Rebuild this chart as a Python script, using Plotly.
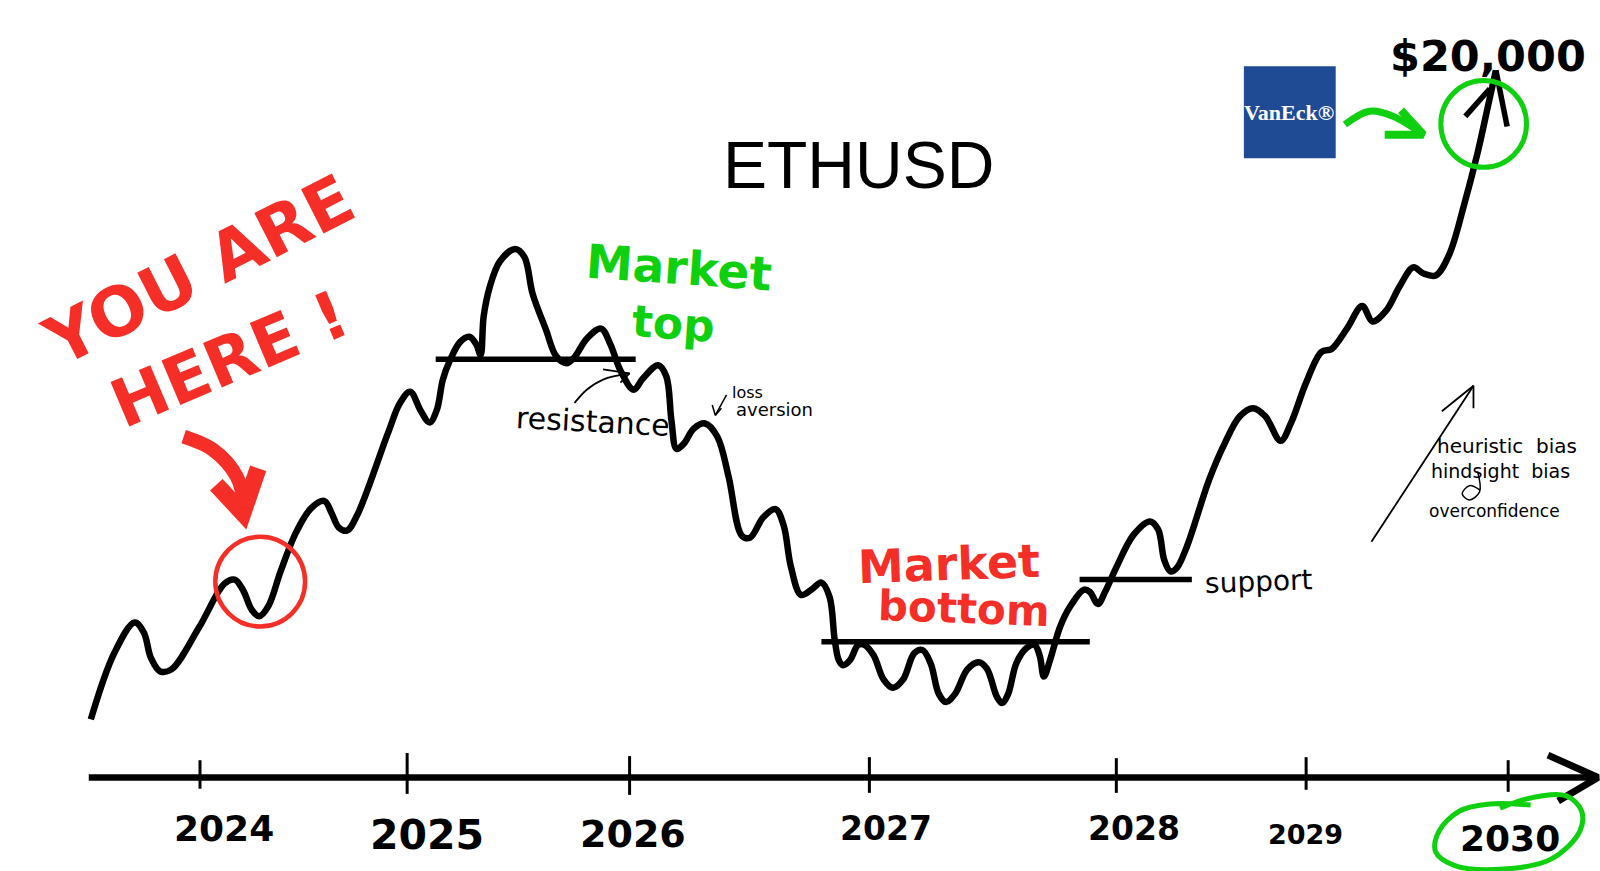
import plotly.graph_objects as go

# Chart units follow the drawing's own scale (1568 x 853.6)
W, H = 1568, 853.6

price_x = [89,112,132,141,148,157,168,195,220,230,238,247,254,263,275,290,305,318,325,332,340,350,380,392,402,412,421,428,434,441,451,460,467,471,474,480,490,505,514,522,535,545,555,563,575,589,598,608,621,630,645,653,658,663,670,680,691,703,714,727,735,748,760,768,775,785,795,805,813,818,822,826,833,841,847,856,866,875,885,896,904,912,920,927,936,948,959,967,977,982,988,996,1006,1014,1019,1023,1029,1039,1049,1062,1068,1076,1083,1094,1111,1127,1135,1141,1147,1153,1163,1185,1200,1215,1228,1240,1255,1265,1280,1295,1305,1320,1335,1345,1358,1372,1385,1395,1407,1420,1435,1448,1458,1466]
price_y = [705,640,610,620,645,658,656,615,572,568,578,598,604,594,560,522,498,491,503,517,520,505,425,395,384,402,414,402,372,353,335,330,338,348,310,281,256,244,252,288,323,349,356,350,332,322,337,363,382,371,358,369,412,440,435,420,415,428,467,525,527,507,499,515,555,583,578,571,585,627,647,652,647,632,632,642,666,674,666,640,637,650,680,688,680,656,649,655,683,689,680,650,635,632,643,663,647,614,594,578,580,592,580,556,524,511,519,549,560,557,536,470,435,408,400,408,432,415,375,345,342,322,300,315,305,280,262,268,270,250,200,150,105,69]

year_labels = ["2024","2025","2026","2027","2028","2029","2030"]
year_tick_x = [196,399,617,852,1094,1280,1478]
year_tick_top = [745,738,741,742,743,742,745]
year_tick_bottom = [773,778,779,777,777,774,776]
year_label_x = [220,418,620,868,1111,1279,1480]
year_label_y = [812,818,817,812,812,818,822]
year_label_size = [36,41,38,33,33,27,36]

resistance_x, resistance_y = [427,623], [352,352]
bottom_x, bottom_y = [805,1068], [629,629]
support_x, support_y = [1058,1168], [568,568]
axis_x, axis_y = [87,1560], [762,762]
axis_head_x, axis_head_y = [1517,1566,1527], [740,762,785]

top_arrow_x, top_arrow_y = [1436,1460,1466,1477], [114,87,69,124]
red_stem_x, red_stem_y = [180,209,232,240], [428,441,467,497]
red_head_x, red_head_y = [212,238,253], [475,503,459]
green_stem_x, green_stem_y = [1318,1342,1365,1395], [122,109,114,132]
green_head_x, green_head_y = [1373,1395,1357], [108,132,132]
ring_x = [1500,1460,1430,1410,1407,1425,1470,1520,1548,1550,1535,1500,1470]
ring_y = [789,788,795,815,835,848,852,842,815,795,780,782,792]
bias_x, bias_y = [1344,1444], [531,378]
bias_head_x, bias_head_y = [1413,1444,1444], [403,378,400]
res_arrow_x, res_arrow_y = [563,575,591,617], [395,382,372,366]
res_head_x, res_head_y = [591,617,608], [362,366,375]
loss_x, loss_y = [712,701], [387,407]
loss_head_x, loss_head_y = [698,701,707], [397,407,400]
g_loop_x, g_loop_y = [1448,1450,1440,1433,1440,1450], [462,482,490,484,476,480]

INK, RED, GREEN, NAVY = "#000000", "#f52f27", "#0fd00f", "#1f4a94"

fig = go.Figure()

def stroke(x, y, color=INK, width=5, smooth=True):
    fig.add_trace(go.Scatter(
        x=x, y=y, mode="lines", hoverinfo="skip", showlegend=False,
        line=dict(color=color, width=width, shape="spline" if smooth else "linear",
                  smoothing=1.0 if smooth else None),
    ))

stroke(price_x, price_y, width=6.5)
stroke(resistance_x, resistance_y, width=5.5, smooth=False)
stroke(bottom_x, bottom_y, width=5.5, smooth=False)
stroke(support_x, support_y, width=5.5, smooth=False)
stroke(axis_x, axis_y, width=6.5, smooth=False)
stroke(axis_head_x, axis_head_y, width=7, smooth=False)
for tx, t0, t1 in zip(year_tick_x, year_tick_top, year_tick_bottom):
    stroke([tx, tx], [t0, t1], width=3, smooth=False)
stroke(top_arrow_x[:2], top_arrow_y[:2], width=5.5, smooth=False)
stroke(top_arrow_x[2:], top_arrow_y[2:], width=5.5, smooth=False)
stroke(red_stem_x, red_stem_y, RED, 14)
stroke(red_head_x, red_head_y, RED, 17, smooth=False)
stroke(green_stem_x, green_stem_y, GREEN, 7)
stroke(green_head_x, green_head_y, GREEN, 8, smooth=False)
stroke(ring_x, ring_y, GREEN, 5)
stroke(bias_x, bias_y, width=1.8, smooth=False)
stroke(bias_head_x, bias_head_y, width=1.8, smooth=False)
stroke(res_arrow_x, res_arrow_y, width=1.8)
stroke(res_head_x, res_head_y, width=1.8, smooth=False)
stroke(loss_x, loss_y, width=1.5, smooth=False)
stroke(loss_head_x, loss_head_y, width=1.5, smooth=False)
stroke(g_loop_x, g_loop_y, width=1.5)

shapes = [
    dict(type="circle", x0=211, x1=299, y0=526, y1=614, line=dict(color=RED, width=4.5)),
    dict(type="circle", x0=1412, x1=1496, y0=79, y1=164, line=dict(color=GREEN, width=5)),
    dict(type="rect", x0=1219, x1=1309, y0=65, y1=155, fillcolor=NAVY, line=dict(width=0), layer="below"),
]

def label(text, x, y, size, color=INK, angle=0, family="DejaVu Sans", bold=True):
    fig.add_annotation(
        x=x, y=y, text=f"<b>{text}</b>" if bold else text, showarrow=False, textangle=angle,
        xanchor="center", yanchor="middle",
        font=dict(family=family, size=size, color=color),
    )

label("ETHUSD", 841, 162, 66, family="Liberation Sans", bold=False)
for s, lx, ly, sz in zip(year_labels, year_label_x, year_label_y, year_label_size):
    label(s, lx, ly, sz)
label("YOU ARE", 195, 265, 68, RED, -27)
label("HERE !", 225, 352, 66, RED, -23)
label("Market", 665, 262, 47, GREEN, 4)
label("top", 660, 317, 44, GREEN, 4)
label("Market", 930, 553, 46, RED, -2)
label("bottom", 945, 596, 42, RED, 2)
label("resistance", 581, 413, 30, angle=3, bold=False)
label("loss", 733, 385, 16, bold=False)
label("aversion", 759, 401, 18, bold=False)
label("support", 1234, 570, 28, angle=-2, bold=False)
label("heuristic  bias", 1477, 437, 20, bold=False)
label("hindsight  bias", 1470, 462, 19, bold=False)
label("overconfidence", 1465, 501, 17, bold=False)
label("$20,000", 1458, 55, 43)
label("VanEck®", 1263, 110, 22, "#ffffff", family="Liberation Serif")

axis_cfg = dict(visible=False, showgrid=False, zeroline=False, fixedrange=True)
fig.update_layout(
    width=1600, height=871, margin=dict(l=0, r=0, t=0, b=0),
    paper_bgcolor="white", plot_bgcolor="white", showlegend=False, shapes=shapes,
    xaxis=dict(range=[0, W], **axis_cfg),
    yaxis=dict(range=[H, 0], **axis_cfg),
)
fig.write_html("out.html", config=dict(displayModeBar=False), post_script="document.body.style.margin='0';")
